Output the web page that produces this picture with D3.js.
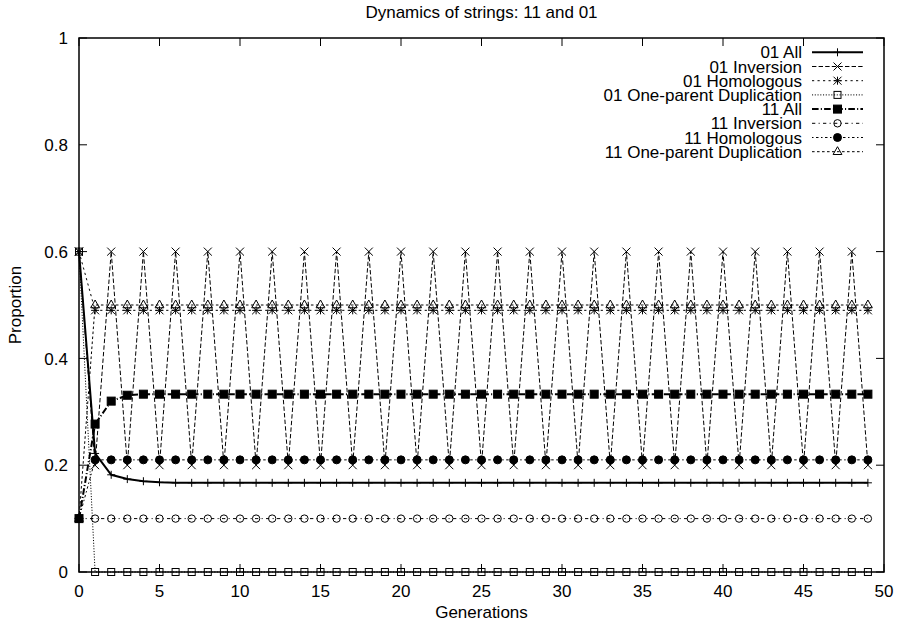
<!DOCTYPE html>
<html>
<head>
<meta charset="utf-8">
<script src="https://cdn.jsdelivr.net/npm/d3@7"></script>
<style>
  body { margin: 0; background: #fff; }
  svg text { font-family: "Liberation Sans", Arial, Helvetica, sans-serif; fill: #000; }
</style>
</head>
<body>
<svg id="chart" width="897" height="629"></svg>
<script>
// generations on the x axis
var generations = [0,1,2,3,4,5,6,7,8,9,10,11,12,13,14,15,16,17,18,19,20,21,22,23,24,
  25,26,27,28,29,30,31,32,33,34,35,36,37,38,39,40,41,42,43,44,45,46,47,48,49];

// proportions
var all01 = [0.6,0.222,0.182,0.174,0.170,0.168,0.167,0.167,0.167,0.167,
  0.167,0.167,0.167,0.167,0.167,0.167,0.167,0.167,0.167,0.167,
  0.167,0.167,0.167,0.167,0.167,0.167,0.167,0.167,0.167,0.167,
  0.167,0.167,0.167,0.167,0.167,0.167,0.167,0.167,0.167,0.167,
  0.167,0.167,0.167,0.167,0.167,0.167,0.167,0.167,0.167,0.167];
var inv01 = [0.6,0.2,0.6,0.2,0.6,0.2,0.6,0.2,0.6,0.2,
  0.6,0.2,0.6,0.2,0.6,0.2,0.6,0.2,0.6,0.2,
  0.6,0.2,0.6,0.2,0.6,0.2,0.6,0.2,0.6,0.2,
  0.6,0.2,0.6,0.2,0.6,0.2,0.6,0.2,0.6,0.2,
  0.6,0.2,0.6,0.2,0.6,0.2,0.6,0.2,0.6,0.2];
var hom01 = [0.6,0.49,0.49,0.49,0.49,0.49,0.49,0.49,0.49,0.49,
  0.49,0.49,0.49,0.49,0.49,0.49,0.49,0.49,0.49,0.49,
  0.49,0.49,0.49,0.49,0.49,0.49,0.49,0.49,0.49,0.49,
  0.49,0.49,0.49,0.49,0.49,0.49,0.49,0.49,0.49,0.49,
  0.49,0.49,0.49,0.49,0.49,0.49,0.49,0.49,0.49,0.49];
var opd01 = [0.6,0,0,0,0,0,0,0,0,0,
  0,0,0,0,0,0,0,0,0,0,
  0,0,0,0,0,0,0,0,0,0,
  0,0,0,0,0,0,0,0,0,0,
  0,0,0,0,0,0,0,0,0,0];
var all11 = [0.1,0.277,0.320,0.331,0.333,0.333,0.333,0.333,0.333,0.333,
  0.333,0.333,0.333,0.333,0.333,0.333,0.333,0.333,0.333,0.333,
  0.333,0.333,0.333,0.333,0.333,0.333,0.333,0.333,0.333,0.333,
  0.333,0.333,0.333,0.333,0.333,0.333,0.333,0.333,0.333,0.333,
  0.333,0.333,0.333,0.333,0.333,0.333,0.333,0.333,0.333,0.333];
var inv11 = [0.1,0.1,0.1,0.1,0.1,0.1,0.1,0.1,0.1,0.1,
  0.1,0.1,0.1,0.1,0.1,0.1,0.1,0.1,0.1,0.1,
  0.1,0.1,0.1,0.1,0.1,0.1,0.1,0.1,0.1,0.1,
  0.1,0.1,0.1,0.1,0.1,0.1,0.1,0.1,0.1,0.1,
  0.1,0.1,0.1,0.1,0.1,0.1,0.1,0.1,0.1,0.1];
var hom11 = [0.1,0.21,0.21,0.21,0.21,0.21,0.21,0.21,0.21,0.21,
  0.21,0.21,0.21,0.21,0.21,0.21,0.21,0.21,0.21,0.21,
  0.21,0.21,0.21,0.21,0.21,0.21,0.21,0.21,0.21,0.21,
  0.21,0.21,0.21,0.21,0.21,0.21,0.21,0.21,0.21,0.21,
  0.21,0.21,0.21,0.21,0.21,0.21,0.21,0.21,0.21,0.21];
var opd11 = [0.1,0.5,0.5,0.5,0.5,0.5,0.5,0.5,0.5,0.5,
  0.5,0.5,0.5,0.5,0.5,0.5,0.5,0.5,0.5,0.5,
  0.5,0.5,0.5,0.5,0.5,0.5,0.5,0.5,0.5,0.5,
  0.5,0.5,0.5,0.5,0.5,0.5,0.5,0.5,0.5,0.5,
  0.5,0.5,0.5,0.5,0.5,0.5,0.5,0.5,0.5,0.5];

var seriesNames = ["01 All", "01 Inversion", "01 Homologous", "01 One-parent Duplication",
  "11 All", "11 Inversion", "11 Homologous", "11 One-parent Duplication"];
var seriesValues = [all01, inv01, hom01, opd01, all11, inv11, hom11, opd11];

var xTicks = [0,5,10,15,20,25,30,35,40,45,50];
var yTicks = [0,0.2,0.4,0.6,0.8,1];

// gnuplot-ish line types, one per series
var styles = [
  {dash: null, width: 2, marker: "plus"},
  {dash: "4.4,2.2", width: 1, marker: "cross"},
  {dash: "2.2,3.3", width: 1, marker: "star"},
  {dash: "1.1,1.65", width: 1, marker: "box"},
  {dash: "6.6,2.2,1.1,2.2", width: 2, marker: "fbox"},
  {dash: "3.3,3.3,1.1,3.3", width: 1, marker: "circle"},
  {dash: "1.5,2.5,2.5,2.5", width: 1, marker: "fcircle"},
  {dash: "2.6,2.4", width: 1, marker: "triangle"}
];

var svg = d3.select("#chart");
var margin = {top: 38, right: 13, bottom: 57, left: 79};
var W = 897, H = 629;
var fs = 17;

var x = d3.scaleLinear().domain([0, 50]).range([margin.left, W - margin.right]);
var y = d3.scaleLinear().domain([0, 1]).range([H - margin.bottom, margin.top]);

// ticks, drawn inward and mirrored like gnuplot
var tickLen = 8;
var axes = svg.append("g").attr("stroke", "#000").attr("stroke-width", 1);
xTicks.forEach(function(t) {
  axes.append("line").attr("x1", x(t)).attr("x2", x(t)).attr("y1", y(0)).attr("y2", y(0) - tickLen);
  axes.append("line").attr("x1", x(t)).attr("x2", x(t)).attr("y1", y(1)).attr("y2", y(1) + tickLen);
});
yTicks.forEach(function(t) {
  axes.append("line").attr("x1", x(0)).attr("x2", x(0) + tickLen).attr("y1", y(t)).attr("y2", y(t));
  axes.append("line").attr("x1", x(50)).attr("x2", x(50) - tickLen).attr("y1", y(t)).attr("y2", y(t));
});

svg.append("g").selectAll("text").data(xTicks).enter().append("text")
  .attr("x", d => x(d)).attr("y", y(0) + 25)
  .attr("text-anchor", "middle").attr("font-size", fs)
  .text(d => d);
svg.append("g").selectAll("text").data(yTicks).enter().append("text")
  .attr("x", x(0) - 11).attr("y", d => y(d)).attr("dy", "0.36em")
  .attr("text-anchor", "end").attr("font-size", fs)
  .text(d => d);

svg.append("text").attr("x", (x(0) + x(50)) / 2).attr("y", 18)
  .attr("text-anchor", "middle").attr("font-size", fs).text("Dynamics of strings: 11 and 01");
svg.append("text").attr("x", (x(0) + x(50)) / 2).attr("y", 618)
  .attr("text-anchor", "middle").attr("font-size", fs).text("Generations");
svg.append("text").attr("transform", "translate(21," + (y(0.5)) + ") rotate(-90)")
  .attr("text-anchor", "middle").attr("font-size", fs).text("Proportion");

function drawMarker(g, type, cx, cy) {
  var s = 4;
  var p = g.append("g").attr("transform", "translate(" + cx + "," + cy + ")")
    .attr("stroke", "#000").attr("stroke-width", 1).attr("fill", "none");
  if (type === "plus") p.append("path").attr("d", "M" + -s + ",0H" + s + "M0," + -s + "V" + s);
  if (type === "cross") p.append("path").attr("d", "M" + -s + "," + -s + "L" + s + "," + s + "M" + -s + "," + s + "L" + s + "," + -s);
  if (type === "star") p.append("path").attr("d", "M" + -s + ",0H" + s + "M0," + -s + "V" + s +
    "M" + -s + "," + -s + "L" + s + "," + s + "M" + -s + "," + s + "L" + s + "," + -s);
  if (type === "box") p.append("rect").attr("x", -s + 0.5).attr("y", -s + 0.5).attr("width", 2 * s - 1).attr("height", 2 * s - 1);
  if (type === "fbox") p.append("rect").attr("x", -s).attr("y", -s).attr("width", 2 * s).attr("height", 2 * s).attr("fill", "#000");
  if (type === "circle") p.append("circle").attr("r", s - 0.3);
  if (type === "fcircle") p.append("circle").attr("r", s).attr("fill", "#000");
  if (type === "triangle") p.append("path").attr("d", "M0," + (-1.25 * s) + "L" + (1.1 * s) + "," + (0.7 * s) + "L" + (-1.1 * s) + "," + (0.7 * s) + "Z");
}

var line = d3.line().x((d, i) => x(generations[i])).y(d => y(d));

var plot = svg.append("g");
seriesValues.forEach(function(vals, k) {
  var st = styles[k];
  plot.append("path").attr("d", line(vals))
    .attr("fill", "none").attr("stroke", "#000").attr("stroke-width", st.width)
    .attr("stroke-dasharray", st.dash);
  var mg = plot.append("g");
  vals.forEach(function(v, i) { drawMarker(mg, st.marker, x(generations[i]), y(v)); });
});

// key in the top right corner
var key = svg.append("g");
var keyY0 = 52.3, keyStep = 14.2;
seriesNames.forEach(function(name, k) {
  var st = styles[k];
  var ry = keyY0 + k * keyStep;
  key.append("text").attr("x", 802).attr("y", ry).attr("dy", "0.36em")
    .attr("text-anchor", "end").attr("font-size", fs).text(name);
  key.append("line").attr("x1", 812).attr("x2", 863).attr("y1", ry).attr("y2", ry)
    .attr("stroke", "#000").attr("stroke-width", st.width).attr("stroke-dasharray", st.dash);
  drawMarker(key, st.marker, 837.5, ry);
});

// frame
svg.append("rect").attr("x", x(0)).attr("y", y(1)).attr("width", x(50) - x(0)).attr("height", y(0) - y(1))
  .attr("fill", "none").attr("stroke", "#000").attr("stroke-width", 1.5);
</script>
</body>
</html>
